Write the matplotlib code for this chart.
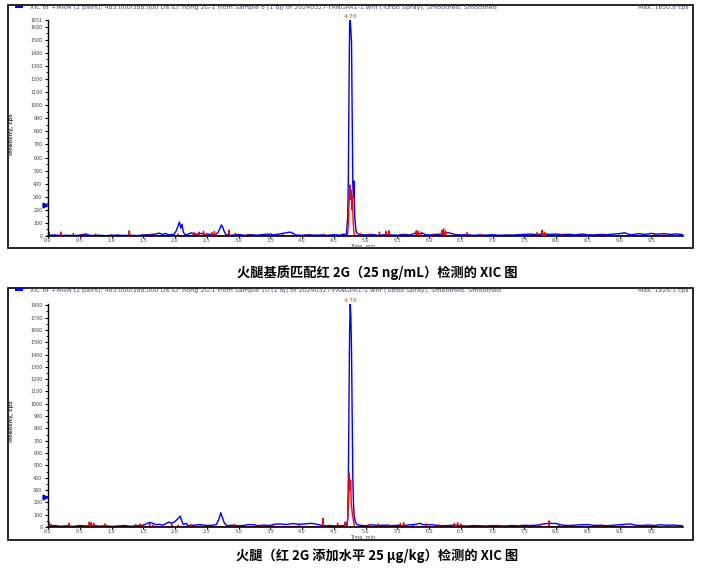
"""XIC 色谱图 - 火腿基质匹配红 2G 与加标样品"""

import matplotlib
matplotlib.use('Agg')
import matplotlib.pyplot as plt
from matplotlib.patches import Rectangle
from matplotlib.ticker import MultipleLocator, FixedLocator

plt.rcParams['font.family'] = ['Noto Sans CJK SC', 'DejaVu Sans']

# ---------------- data (time, min / intensity, cps) ----------------
# panel 1: matrix-matched standard
blue1 = [(0.0, 5), (0.1, 8), (0.2, 4), (0.3, 6), (0.4, 3), (0.5, 7), (0.55, 12), (0.6, 15), (0.65, 6),
         (0.7, 4), (0.8, 6), (0.9, 3), (1.0, 5), (1.1, 7), (1.2, 4), (1.3, 6), (1.4, 3), (1.5, 8),
         (1.6, 10), (1.7, 15), (1.75, 22), (1.8, 12), (1.85, 20), (1.9, 8), (1.95, 12), (1.98, 10),
         (2.02, 40), (2.05, 80), (2.07, 107), (2.09, 60), (2.11, 90), (2.13, 30), (2.16, 10), (2.2, 12),
         (2.26, 25), (2.3, 10), (2.35, 15), (2.43, 20), (2.48, 8), (2.52, 15), (2.58, 10), (2.64, 10),
         (2.68, 30), (2.71, 60), (2.73, 85), (2.75, 70), (2.77, 40), (2.8, 10), (2.9, 6), (3.0, 12),
         (3.1, 5), (3.2, 10), (3.3, 6), (3.4, 12), (3.5, 15), (3.55, 8), (3.6, 12), (3.7, 20), (3.76, 25),
         (3.81, 30), (3.86, 20), (3.9, 8), (4.0, 5), (4.1, 10), (4.2, 6), (4.3, 8), (4.4, 5), (4.5, 10),
         (4.6, 6), (4.66, 15), (4.7, 10),
         (4.72, 150), (4.73, 450), (4.74, 1100), (4.75, 1620), (4.76, 1651), (4.77, 1560), (4.78, 1480),
         (4.79, 900), (4.80, 400), (4.81, 300), (4.82, 420), (4.83, 150), (4.85, 40), (4.87, 20),
         (4.9, 12), (5.0, 8), (5.1, 12), (5.2, 5), (5.3, 10), (5.4, 8), (5.5, 6), (5.6, 12), (5.7, 8),
         (5.8, 25), (5.85, 18), (5.9, 22), (5.95, 10), (6.0, 8), (6.1, 12), (6.2, 15), (6.3, 25),
         (6.35, 20), (6.4, 12), (6.5, 8), (6.6, 10), (6.7, 5), (6.8, 8), (6.9, 6), (7.0, 10), (7.1, 5),
         (7.2, 8), (7.3, 6), (7.4, 10), (7.5, 12), (7.6, 15), (7.7, 10), (7.8, 18), (7.9, 12), (8.0, 15),
         (8.1, 10), (8.2, 14), (8.3, 8), (8.4, 15), (8.5, 10), (8.6, 8), (8.7, 12), (8.8, 10), (8.9, 15),
         (9.0, 18), (9.08, 25), (9.15, 12), (9.2, 10), (9.3, 18), (9.4, 12), (9.5, 20), (9.6, 14),
         (9.7, 18), (9.8, 12), (9.9, 16), (10.0, 10)]
red1_spikes = [(0.02, 30), (0.2, 30), (0.4, 20), (0.55, 10), (0.75, 15), (1.0, 10), (1.28, 40), (1.62, 15),
               (2.05, 15), (2.3, 25), (2.38, 30), (2.45, 35), (2.5, 20), (2.58, 25), (2.62, 35), (2.85, 45),
               (2.95, 20), (3.15, 15), (3.45, 10), (3.7, 10), (4.1, 10), (4.35, 15), (4.92, 20), (5.05, 15),
               (5.22, 30), (5.32, 35), (5.37, 40), (5.6, 15), (5.8, 40), (5.83, 35), (5.88, 25), (6.05, 15),
               (6.2, 45), (6.23, 55), (6.26, 35), (6.4, 15), (6.6, 25), (6.8, 15), (7.3, 10), (7.7, 25),
               (7.78, 45), (7.82, 25), (8.1, 15), (8.5, 10), (8.75, 15), (9.25, 10), (9.55, 15), (9.7, 10)]
red1_peak = [(4.71, 0), (4.72, 20), (4.73, 100), (4.745, 300), (4.755, 390), (4.765, 280), (4.775, 350),
             (4.785, 200), (4.795, 300), (4.805, 120), (4.815, 40), (4.83, 0)]

# panel 2: spiked ham sample
blue2 = [(0.0, 8), (0.1, 12), (0.2, 6), (0.3, 10), (0.4, 5), (0.5, 12), (0.6, 8), (0.7, 14), (0.8, 6),
         (0.9, 10), (1.0, 5), (1.1, 8), (1.2, 12), (1.3, 6), (1.4, 10), (1.5, 14), (1.55, 25), (1.6, 38),
         (1.65, 30), (1.7, 18), (1.75, 22), (1.8, 15), (1.85, 25), (1.9, 40), (1.95, 30), (2.0, 45),
         (2.03, 60), (2.06, 75), (2.08, 89), (2.1, 60), (2.13, 20), (2.18, 30), (2.2, 10), (2.3, 15),
         (2.4, 20), (2.5, 12), (2.6, 15), (2.65, 20), (2.69, 60), (2.72, 116), (2.75, 70), (2.78, 30),
         (2.82, 10), (2.9, 15), (3.0, 10), (3.1, 14), (3.15, 20), (3.25, 18), (3.3, 10), (3.4, 15),
         (3.5, 12), (3.55, 22), (3.65, 25), (3.75, 20), (3.85, 28), (3.95, 22), (4.05, 25), (4.15, 30),
         (4.25, 20), (4.35, 10), (4.45, 12), (4.55, 8), (4.65, 12), (4.7, 10),
         (4.72, 60), (4.73, 400), (4.74, 1000), (4.75, 1600), (4.76, 1810), (4.77, 1700), (4.78, 1420),
         (4.79, 884), (4.80, 405), (4.81, 200), (4.82, 97), (4.84, 40), (4.87, 20),
         (4.9, 15), (5.0, 10), (5.1, 18), (5.2, 12), (5.3, 15), (5.4, 10), (5.5, 14), (5.6, 12),
         (5.7, 18), (5.8, 22), (5.85, 30), (5.9, 20), (6.0, 18), (6.05, 20), (6.1, 14), (6.2, 10),
         (6.3, 12), (6.4, 16), (6.5, 10), (6.6, 8), (6.7, 12), (6.8, 10), (6.9, 8), (7.0, 12), (7.1, 10),
         (7.2, 8), (7.3, 12), (7.4, 10), (7.5, 14), (7.6, 12), (7.7, 15), (7.8, 25), (7.9, 30), (8.0, 28),
         (8.1, 15), (8.2, 12), (8.3, 15), (8.4, 18), (8.5, 20), (8.6, 12), (8.7, 15), (8.8, 10), (8.9, 14),
         (9.0, 18), (9.1, 22), (9.17, 25), (9.25, 15), (9.35, 12), (9.45, 16), (9.55, 12), (9.65, 18),
         (9.75, 14), (9.85, 16), (9.95, 12), (10.0, 10)]
red2_spikes = [(0.0, 60), (0.02, 40), (0.05, 20), (0.33, 30), (0.65, 40), (0.68, 35), (0.72, 30), (0.9, 25),
               (1.38, 20), (1.45, 25), (1.5, 20), (1.6, 30), (1.65, 15), (1.95, 20), (2.05, 15), (2.25, 20),
               (2.4, 15), (2.94, 20), (3.35, 15), (3.55, 20), (3.95, 15), (4.33, 70), (4.56, 30), (4.68, 40),
               (4.9, 15), (5.05, 20), (5.2, 25), (5.35, 20), (5.55, 30), (5.6, 35), (5.75, 15), (5.95, 25),
               (6.15, 20), (6.4, 30), (6.45, 35), (6.5, 25), (6.9, 10), (7.1, 15), (7.4, 10), (7.75, 20),
               (7.89, 50), (8.05, 15), (8.3, 10), (8.7, 15), (9.05, 10), (9.45, 15), (9.55, 10)]
red2_peak = [(4.71, 0), (4.72, 80), (4.735, 250), (4.745, 438), (4.755, 300), (4.765, 380), (4.775, 200),
             (4.79, 120), (4.81, 50), (4.83, 0)]

headers = [
    "XIC of +MRM (2 pairs): 483.000/388.000 Da ID: hong 2G-1 from Sample 8 (1 dj) of "
    "20240327-FANGPA1-1.wiff (Turbo Spray), Smoothed, Smoothed",
    "XIC of +MRM (2 pairs): 483.000/388.000 Da ID: hong 2G-1 from Sample 10 (1 dj) of "
    "20240327-FANGPA1-1.wiff (Turbo Spray), Smoothed, Smoothed",
]
max_labels = ["Max. 1650.8 cps", "Max. 1828.3 cps"]
captions = ["火腿基质匹配红 2G（25 ng/mL）检测的 XIC 图",
            "火腿（红 2G 添加水平 25 μg/kg）检测的 XIC 图"]
peak_rt = 4.76
ymax = [1651, 1810]
ytick_top = [1600, 1800]
threshold = [237, 243]

# ---------------- layout (pixels) ----------------
W, H = 714, 569
boxes = [(8, 5, 693, 248), (8, 288, 693, 540)]
axes_px = [(48, 20, 683, 236), (48, 304, 683, 527)]
caption_y = [273, 556]

fig = plt.figure(figsize=(W / 100, H / 100), dpi=100)


def fx(px):
    return px / W


def fy(py):
    return 1 - py / H


def spike_trace(spikes, half=0.006):
    t, y = [], []
    for tt, h in spikes:
        t += [tt - half, tt, tt + half]
        y += [0, h, 0]
    return t, y


tiny = dict(family='DejaVu Sans', fontsize=4.0, color='#4a4a55')

for i in range(2):
    x0, y0, x1, y1 = boxes[i]
    fig.patches.append(Rectangle((fx(x0), fy(y1)), fx(x1 - x0), (y1 - y0) / H,
                                 transform=fig.transFigure, fill=False, ec='black', lw=1.2))
    # legend swatch + header text
    fig.patches.append(Rectangle((fx(15), fy(y0 + 3)), fx(8), 3 / H,
                                 transform=fig.transFigure, fc='#0000ee', ec='none'))
    fig.text(fx(30), fy(y0 + 2.8), headers[i], ha='left', va='center',
             family='DejaVu Sans', fontsize=4.6, color='#4a4a60')
    fig.text(fx(689), fy(y0 + 2.8), max_labels[i], ha='right', va='center',
             family='DejaVu Sans', fontsize=4.4, color='#4a4a60')

    ax0, ay0, ax1, ay1 = axes_px[i]
    ax = fig.add_axes([fx(ax0), fy(ay1), fx(ax1 - ax0), (ay1 - ay0) / H])

    bt, by = zip(*blue1) if i == 0 else zip(*blue2)
    spk = red1_spikes if i == 0 else red2_spikes
    pk = red1_peak if i == 0 else red2_peak
    st, sy = spike_trace(spk)
    pts = sorted(list(zip(st, sy)) + pk)
    rt, ry = zip(*pts)

    ax.plot(bt, by, color='#0000ff', lw=1.0, zorder=2)
    ax.plot(rt, ry, color='#ff0000', lw=1.0, zorder=2.2)

    ax.set_xlim(0, 10.0)
    ax.set_ylim(0, ymax[i])
    for s in ['top', 'right']:
        ax.spines[s].set_visible(False)
    ax.spines['left'].set_linewidth(1.0)
    ax.spines['bottom'].set_linewidth(1.2)
    ax.spines['left'].set_zorder(3)
    ax.spines['bottom'].set_zorder(3)

    ax.set_xticks([k * 0.5 for k in range(20)])
    ax.set_xticklabels([f"{k * 0.5:.1f}" for k in range(20)])
    yt = list(range(0, ytick_top[i] + 1, 100))
    if i == 0:
        yt.append(ymax[0])
    ax.yaxis.set_major_locator(FixedLocator(yt))
    ax.set_yticklabels([str(v) for v in yt])
    ax.yaxis.set_minor_locator(MultipleLocator(50))
    ax.tick_params(axis='both', which='major', labelsize=4.0, labelcolor='#4a4a55',
                   length=2.5, width=0.8, pad=1.5)
    ax.tick_params(axis='y', which='minor', length=1.5, width=0.6)
    ax.tick_params(axis='x', which='major', length=1.2, pad=0.3)

    # threshold marker on y axis
    ax.plot([-0.04], [threshold[i]], marker='>', ms=3.5, color='#0000ee', clip_on=False, zorder=4)

    ax.text(peak_rt, ymax[i] * 1.005, f"{peak_rt:.2f}", ha='center', va='bottom',
            family='DejaVu Sans', fontsize=4.5, color='#9a6a30')

    fig.text(fx(350), fy(ay1 + 10.5), "Time, min", ha='left', va='center',
             family='DejaVu Sans', fontsize=3.6, color='#4a4a55')
    fig.text(fx(12), fy((ay0 + ay1) / 2 + 6), "Intensity, cps", rotation=90,
             ha='center', va='center', fontweight='bold', **tiny)

    fig.text(fx(377), fy(caption_y[i]), captions[i], ha='center', va='center',
             fontsize=9.5, fontweight='bold', color='black')

fig.savefig('out.png', dpi=100)
